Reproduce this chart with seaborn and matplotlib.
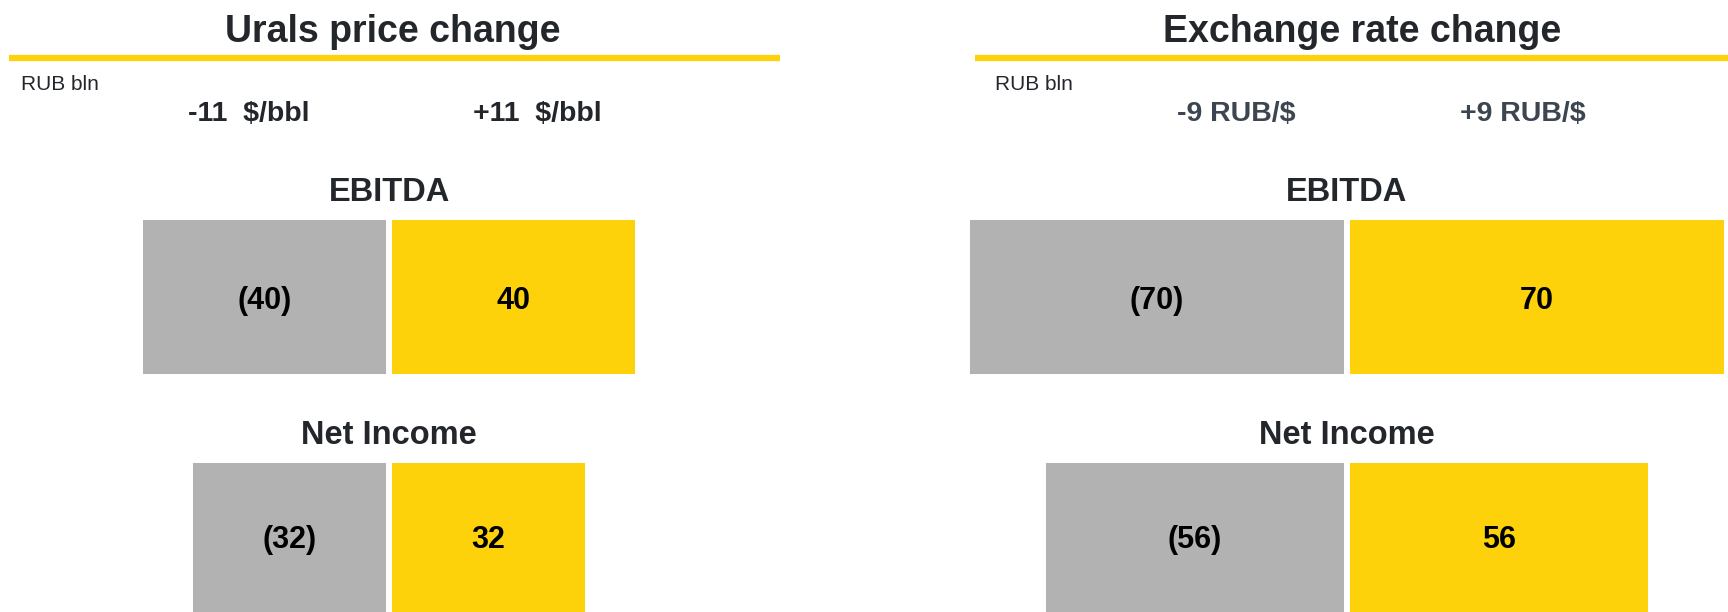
import matplotlib
matplotlib.use("Agg")
import matplotlib.pyplot as plt
import seaborn as sns
import pandas as pd
from matplotlib.lines import Line2D

sns.set_style("white")
plt.rcParams["font.family"] = ["Liberation Sans", "DejaVu Sans"]

# ---- data ----
metrics = ["EBITDA", "Net Income"]
scenarios = ["down", "up"]
urals_down = [-40, -32]
urals_up = [40, 32]
fx_down = [-70, -56]
fx_up = [70, 56]
panel_titles = ["Urals price change", "Exchange rate change"]
urals_shocks = ["-11  $/bbl", "+11  $/bbl"]
fx_shocks = ["-9 RUB/$", "+9 RUB/$"]
unit_label = "RUB bln"

GRAY = "#b2b2b2"
YELLOW = "#fdd20a"
DARK = "#23272b"
SLATE = "#3d4650"

W, H = 1728, 612
fig = plt.figure(figsize=(W / 100, H / 100), dpi=100)


def fx_(px):
    return px / W


def fy_(py):
    return 1 - py / H


BAR_W = 0.66
YLIM = (1.2955, -1.223)


def draw_panel(ax, down, up, xlim):
    df = pd.DataFrame({
        "metric": metrics * 2,
        "scenario": ["down"] * len(metrics) + ["up"] * len(metrics),
        "value": list(down) + list(up),
    })
    sns.barplot(data=df, x="value", y="metric", hue="scenario",
                hue_order=scenarios, palette={"down": GRAY, "up": YELLOW},
                saturation=1, dodge=False, width=BAR_W, orient="h",
                legend=False, edgecolor="white", linewidth=4.3, ax=ax)
    for cont in ax.containers:
        labels = []
        for bar in cont:
            v = bar.get_width()
            labels.append(f"({abs(v):g})" if v < 0 else f"{v:g}")
        anns = ax.bar_label(cont, labels=labels, label_type="center",
                            fontsize=22, fontweight="bold", color="black")
        for a in anns:
            a.xyann = (0, -3)
    for i, m in enumerate(metrics):
        ax.text(0, i - BAR_W / 2 - 0.10, m, ha="center", va="center",
                fontsize=23.5, fontweight="bold", color=DARK)
    ax.set_xlim(*xlim)
    ax.set_ylim(*YLIM)
    ax.axis("off")


axL = fig.add_axes([0, 0, 0.5, 1])
draw_panel(axL, urals_down, urals_up, (-62.5, 76.3))
axR = fig.add_axes([0.5, 0, 0.5, 1])
draw_panel(axR, fx_down, fx_up, (-88.9, 70.2))

# titles and rules
fig.text(fx_(393), fy_(32.5), panel_titles[0], ha="center", va="center",
         fontsize=27, fontweight="bold", color=DARK)
fig.text(fx_(1362), fy_(32.5), panel_titles[1], ha="center", va="center",
         fontsize=27, fontweight="bold", color=DARK)
for x0, x1 in [(9, 780), (975, 1728)]:
    fig.add_artist(Line2D([fx_(x0), fx_(x1)], [fy_(58), fy_(58)],
                          color=YELLOW, linewidth=4.5, solid_capstyle="butt",
                          transform=fig.transFigure))

# unit labels
fig.text(fx_(21), fy_(85), unit_label, ha="left", va="center",
         fontsize=15, color=DARK)
fig.text(fx_(995), fy_(85), unit_label, ha="left", va="center",
         fontsize=15, color=DARK)

# shock labels
fig.text(fx_(249), fy_(114), urals_shocks[0], ha="center", va="center",
         fontsize=20.5, fontweight="bold", color=DARK)
fig.text(fx_(537), fy_(114), urals_shocks[1], ha="center", va="center",
         fontsize=20.5, fontweight="bold", color=DARK)
fig.text(fx_(1236), fy_(114), fx_shocks[0], ha="center", va="center",
         fontsize=20.5, fontweight="bold", color=SLATE)
fig.text(fx_(1523), fy_(114), fx_shocks[1], ha="center", va="center",
         fontsize=20.5, fontweight="bold", color=SLATE)

fig.savefig("out.png", dpi=100)
